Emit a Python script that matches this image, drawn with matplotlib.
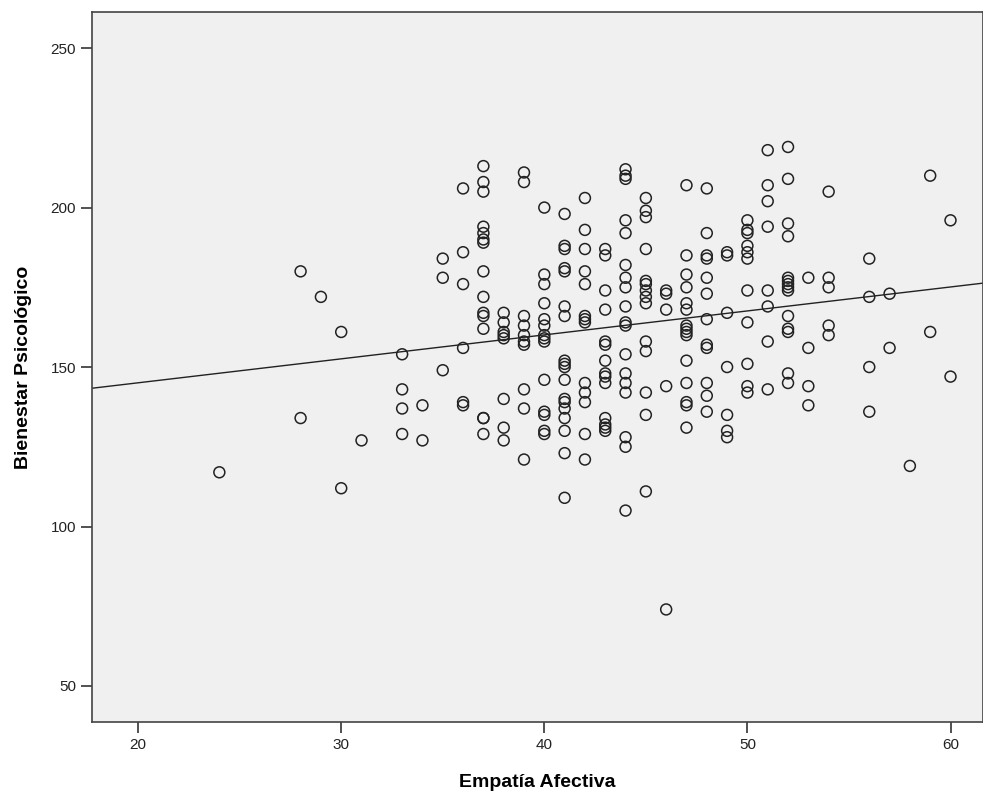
import matplotlib
matplotlib.use("Agg")
import matplotlib.pyplot as plt
import numpy as np

plt.rcParams['font.family'] = ['Liberation Sans', 'DejaVu Sans']

# Bienestar Psicológico values grouped by Empatía Afectiva score
COLUMNS = {
    24: [117],
    28: [180, 134],
    29: [172],
    30: [161, 112],
    31: [127],
    33: [154, 143, 137, 129],
    34: [138, 127],
    35: [184, 178, 149],
    36: [206, 186, 176, 156, 139, 138],
    37: [213, 208, 205, 194, 192, 190, 189, 180, 172, 167, 166, 162, 134, 134, 129],
    38: [167, 164, 161, 160, 159, 140, 131, 127],
    39: [211, 208, 166, 163, 160, 158, 157, 143, 137, 121],
    40: [200, 179, 176, 170, 165, 163, 160, 159, 158, 146, 136, 135, 130, 129],
    41: [198, 188, 187, 181, 180, 169, 166, 152, 151, 150, 146, 140, 139, 137, 134, 130, 123, 109],
    42: [203, 193, 187, 180, 176, 166, 165, 164, 145, 142, 139, 129, 121],
    43: [187, 185, 174, 168, 158, 157, 152, 148, 147, 145, 134, 132, 131, 130],
    44: [212, 210, 209, 196, 192, 182, 178, 175, 169, 164, 163, 154, 148, 145, 142, 128, 125, 105],
    45: [203, 199, 197, 187, 177, 176, 174, 172, 170, 158, 155, 142, 135, 111],
    46: [174, 173, 168, 144, 74],
    47: [207, 185, 179, 175, 170, 168, 163, 162, 161, 160, 152, 145, 139, 138, 131],
    48: [206, 192, 185, 184, 178, 173, 165, 157, 156, 145, 141, 136],
    49: [186, 185, 167, 150, 135, 130, 128],
    50: [196, 193, 192, 188, 186, 184, 174, 164, 151, 144, 142],
    51: [218, 207, 202, 194, 174, 169, 158, 143],
    52: [219, 209, 195, 191, 178, 177, 176, 175, 174, 166, 162, 161, 148, 145],
    53: [178, 156, 144, 138],
    54: [205, 178, 175, 163, 160],
    56: [184, 172, 150, 136],
    57: [173, 156],
    58: [119],
    59: [210, 161],
    60: [196, 147],
}

x_ticks = [20, 30, 40, 50, 60]
y_ticks = [50, 100, 150, 200, 250]

empatia = np.array([k for k, vals in COLUMNS.items() for _ in vals], dtype=float)
bienestar = np.array([v for vals in COLUMNS.values() for v in vals], dtype=float)

fig = plt.figure(figsize=(9.83, 7.98), dpi=100)
ax = fig.add_axes([0.0936, 0.0952, 0.9064, 0.8897])
ax.set_facecolor('#f0f0f0')

ax.scatter(empatia, bienestar, s=62, facecolors='none', edgecolors='#222222',
           linewidths=1.1, zorder=3)

# linear fit line
slope, intercept = np.polyfit(empatia, bienestar, 1)
xl = np.array([17.73, 61.6])
ax.plot(xl, intercept + slope * xl, color='#222222', linewidth=1.0, zorder=2)

ax.set_xlim(17.73, 61.6)
ax.set_ylim(38.7, 261.3)
ax.set_xticks(x_ticks)
ax.set_yticks(y_ticks)
ax.tick_params(direction='out', length=8, width=1.2, color='#333333',
               labelsize=11, labelcolor='#222222')

for side in ['left', 'bottom', 'top', 'right']:
    ax.spines[side].set_color('#444444')
    ax.spines[side].set_linewidth(1.2)

ax.set_xlabel('Empatía Afectiva', fontsize=14, fontweight='bold', labelpad=16)
ax.set_ylabel('Bienestar Psicológico', fontsize=14, fontweight='bold', labelpad=13)

fig.savefig('out.png', dpi=100, facecolor='white')
